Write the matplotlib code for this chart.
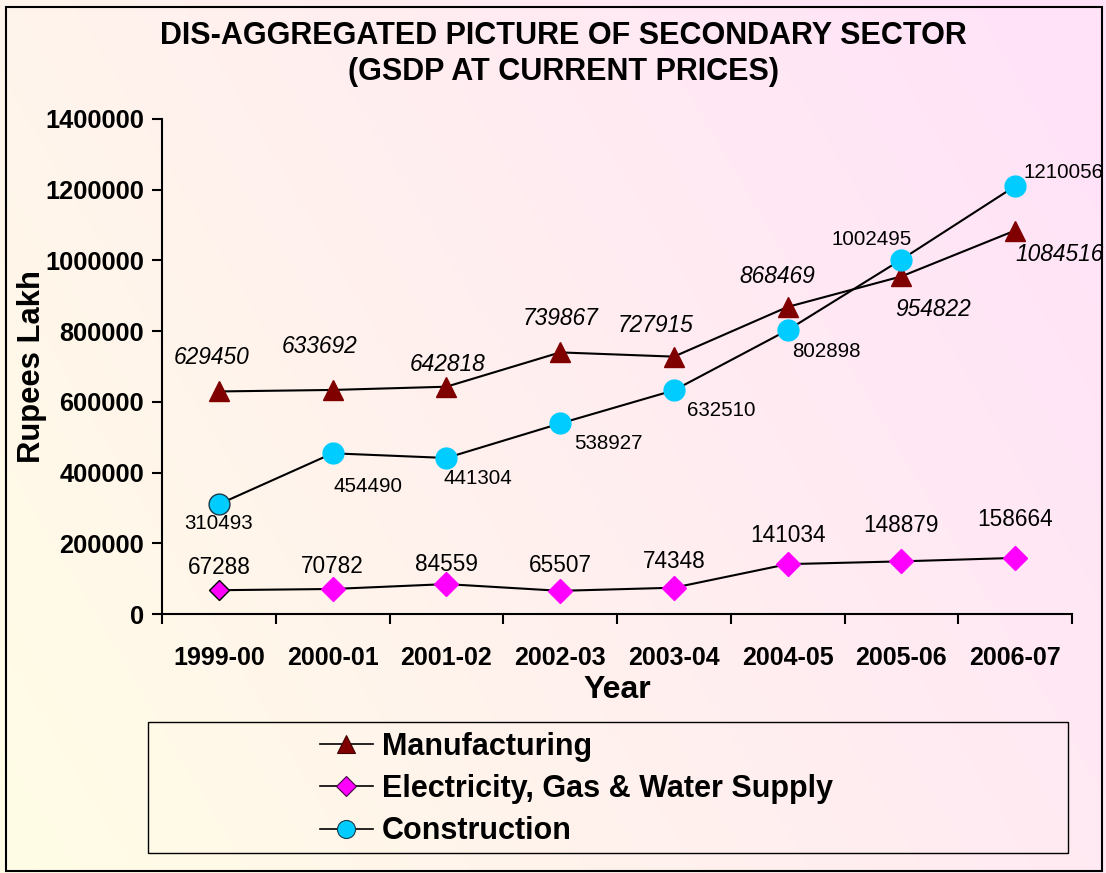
import matplotlib.pyplot as plt
import numpy as np
from matplotlib.colors import LinearSegmentedColormap
from matplotlib.patches import Rectangle
from matplotlib.lines import Line2D

plt.rcParams['font.family'] = ['Liberation Sans', 'DejaVu Sans']

years = ['1999-00', '2000-01', '2001-02', '2002-03', '2003-04', '2004-05', '2005-06', '2006-07']
manufacturing = [629450, 633692, 642818, 739867, 727915, 868469, 954822, 1084516]
electricity = [67288, 70782, 84559, 65507, 74348, 141034, 148879, 158664]
construction = [310493, 454490, 441304, 538927, 632510, 802898, 1002495, 1210056]

# label offsets in pixels (dx, dy)
manu_off = [(-7, 34), (-13, 43), (1, 22), (0, 34), (-18, 31), (-10, 30), (32, -33), (44, -24)]
cons_off = [(0, -19), (35, -33), (31, -21), (48, -20), (47, -20), (39, -21), (-30, 20), (48, 14)]
elec_off = [(0, 23), (0, 22), (0, 20), (0, 25), (0, 26), (0, 29), (0, 36), (0, 38)]

fig = plt.figure(figsize=(11.06, 8.73), dpi=100)

# gradient background
bg = fig.add_axes([0, 0, 1, 1], zorder=-10)
gx, gy = np.meshgrid(np.linspace(0, 1, 300), np.linspace(0, 1, 300))
grad = np.clip(0.75 * gx + 0.35 * (1 - gy) - 0.05, 0, 1)
cmap = LinearSegmentedColormap.from_list('bgc', ['#FFFCE6', '#FFE2F8'])
bg.imshow(grad, cmap=cmap, aspect='auto', extent=[0, 1, 0, 1], origin='upper')
bg.set_axis_off()
bg.add_patch(Rectangle((6 / 1106, 0.002), 1 - 10 / 1106, 1 - 7 / 873 - 0.002,
                       fill=False, edgecolor='black', lw=1.5, transform=bg.transAxes))

ax = fig.add_axes([162 / 1106, 1 - 614 / 873, (1072 - 162) / 1106, (614 - 119) / 873])
ax.patch.set_alpha(0)
x = np.arange(len(years))

ax.plot(x, manufacturing, color='black', lw=1.5, marker='^', ms=15,
        mfc='#800000', mec='#800000', zorder=3)
ax.plot(x, electricity, color='black', lw=1.5, marker='D', ms=12, markevery=slice(1, None),
        mfc='#FF00FF', mec='#FF00FF', zorder=3)
ax.plot(x, construction, color='black', lw=1.5, marker='o', ms=15, markevery=slice(1, None),
        mfc='#00CCFF', mec='#00CCFF', zorder=3)
# first points drawn with thin dark outline, as in the original
ax.plot(x[:1], electricity[:1], ls='none', marker='D', ms=10, mfc='#FF00FF', mec='black', mew=1, zorder=4)
ax.plot(x[:1], construction[:1], ls='none', marker='o', ms=15, mfc='#00CCFF', mec='#1a3a4a', mew=1, zorder=4)

for i in range(len(years)):
    ax.annotate(f'{manufacturing[i]}', (x[i], manufacturing[i]), xytext=manu_off[i],
                textcoords='offset pixels', ha='center', va='center', fontsize=16.4, style='italic')
    ax.annotate(f'{construction[i]}', (x[i], construction[i]), xytext=cons_off[i],
                textcoords='offset pixels', ha='center', va='center', fontsize=14.8)
    ax.annotate(f'{electricity[i]}', (x[i], electricity[i]), xytext=elec_off[i],
                textcoords='offset pixels', ha='center', va='center', fontsize=16.3)

ax.set_xlim(-0.5, 7.5)
ax.set_ylim(0, 1400000)
ax.set_yticks(np.arange(0, 1400001, 200000))
ax.set_yticklabels([str(v) for v in np.arange(0, 1400001, 200000)], fontsize=18.3, fontweight='bold')
ax.set_xticks(np.arange(-0.5, 8, 1))
ax.set_xticklabels([])
ax.set_xticks(x, minor=True)
ax.set_xticklabels(years, minor=True, fontsize=18, fontweight='bold')
ax.tick_params(axis='x', which='minor', length=0, pad=23)
ax.tick_params(axis='both', which='major', length=7, width=1.5, direction='out')
ax.tick_params(axis='y', pad=6)
for s in ['top', 'right']:
    ax.spines[s].set_visible(False)
for s in ['left', 'bottom']:
    ax.spines[s].set_linewidth(1.5)

ax.set_xlabel('Year', fontsize=23, fontweight='bold', labelpad=4)
ax.set_ylabel('Rupees Lakh', fontsize=22.3, fontweight='bold')
ax.yaxis.set_label_coords(-0.126, 0.5)

fig.text(563 / 1106, 1 - 54 / 873, 'DIS-AGGREGATED PICTURE OF SECONDARY SECTOR\n(GSDP AT CURRENT PRICES)',
         ha='center', va='center', fontsize=22, fontweight='bold', linespacing=1.24)

# legend frame and handles
bg.add_patch(Rectangle((148 / 1106, 1 - 853 / 873), (1068 - 148) / 1106, (853 - 722) / 873,
                       fill=False, edgecolor='black', lw=1, transform=bg.transAxes))
handles = [
    Line2D([], [], color='black', lw=1.2, marker='^', ms=13, mfc='#800000', mec='#400000', mew=0.8),
    Line2D([], [], color='black', lw=1.2, marker='D', ms=10, mfc='#FF00FF', mec='#400040', mew=0.8),
    Line2D([], [], color='black', lw=1.2, marker='o', ms=13, mfc='#00CCFF', mec='#1a3a4a', mew=0.8),
]
names = ['Manufacturing', 'Electricity, Gas & Water Supply', 'Construction']
fig.legend(handles, names, loc='center left', bbox_to_anchor=(292 / 1106, 1 - 789 / 873),
           frameon=False, prop={'size': 22, 'weight': 'bold'}, handlelength=1.75,
           handletextpad=0.3, labelspacing=0.4)

fig.savefig('out.png', dpi=100)
